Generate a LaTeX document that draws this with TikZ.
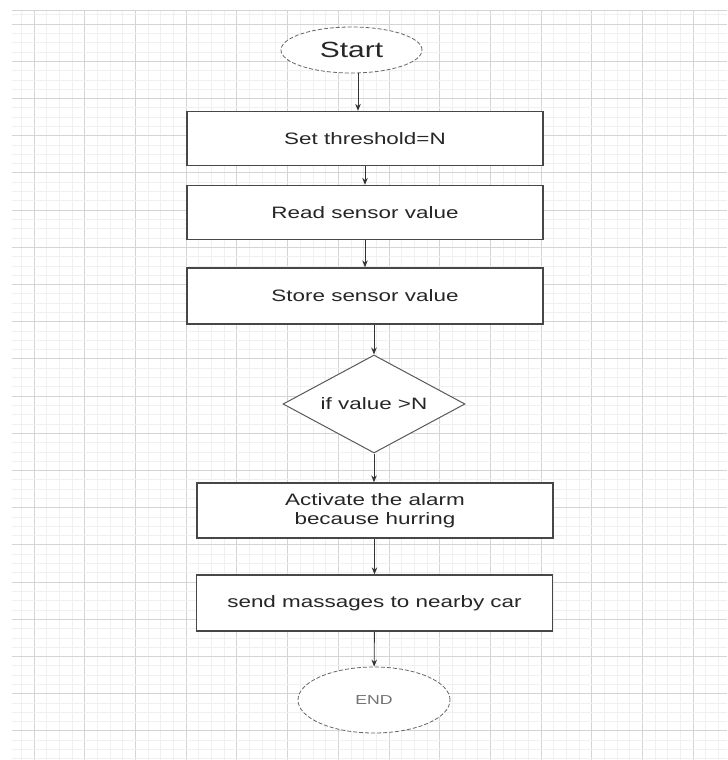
\documentclass[tikz,border=0pt]{standalone}
\usepackage{fontspec}
\setmainfont{Liberation Sans}
\usetikzlibrary{shapes.geometric,arrows.meta}
\newcommand{\wtext}[1]{\scalebox{1.36}[1]{#1}}

\begin{document}
\begin{tikzpicture}[x=1pt,y=-1pt,
    major/.style={draw=black!17, line width=0.8pt},
    minor/.style={draw=black!6, line width=0.6pt},
    box/.style={rectangle, draw=black!72, line width=1.3pt, fill=white, minimum width=356pt, minimum height=54pt, inner sep=0pt, text=black!85, font=\fontsize{16.5}{19}\selectfont},
    term/.style={ellipse, draw=black!60, line width=0.8pt, dash pattern=on 4pt off 2pt, fill=white, inner sep=0pt},
    dec/.style={diamond, aspect=2, draw=black!65, line width=1pt, fill=white, minimum width=182pt, minimum height=98pt, inner sep=0pt, text=black!85, font=\fontsize{16.5}{19}\selectfont},
    arr/.style={draw=black!80, line width=0.9pt, -{Stealth[length=7pt,width=5.5pt]}}]

  % Background and grid
  \fill[white] (0,0) rectangle (727,760);
  \begin{scope}
    \clip (12,10) rectangle (727,760);
    \foreach \i in {-1,...,13} {
      \foreach \j in {1,2,3}
        \draw[minor] ({34+50.7*\i+12.675*\j},10) -- ++(0,750);
      \draw[major] ({34+50.7*\i},10) -- ++(0,750);
    }
    \foreach \k in {-1,...,19} {
      \foreach \j in {1,2,3}
        \draw[minor] (12,{24+37.2*\k+9.3*\j}) -- ++(715,0);
      \draw[major] (12,{24+37.2*\k}) -- ++(715,0);
    }
  \end{scope}
  \draw[major] (12,10) -- (727,10);

  % Flow nodes
  \node[term, minimum width=141pt, minimum height=46pt, text=black!85, font=\fontsize{22}{24}\selectfont] (start) at (351.5,50) {\wtext{Start}};
  \node[box] (thresh) at (365,138.5) {\wtext{Set threshold=N}};
  \node[box] (read) at (365,212.5) {\wtext{Read sensor value}};
  \node[box, minimum height=56pt] (store) at (365,296) {\wtext{Store sensor value}};
  \node[dec] (check) at (374,404) {\wtext{if value >N}};
  \node[box, minimum height=55pt, align=center] (alarm) at (375,510.5) {\wtext{Activate the alarm}\\\wtext{because hurring}};
  \node[box, minimum height=56pt] (send) at (374.5,603) {\wtext{send massages to nearby car}};
  \node[term, minimum width=152pt, minimum height=66pt, text=black!55, font=\fontsize{13}{15}\selectfont] (stop) at (374,700) {\wtext{END}};

  % Connectors
  \draw[arr] ([xshift=6.5pt]start.south) -- ([xshift=6.5pt]start.south |- thresh.north);
  \draw[arr] (thresh) -- (read);
  \draw[arr] (read) -- (store);
  \draw[arr] (store.south -| check.north) -- (check.north);
  \draw[arr] (check.south) -- (check.south |- alarm.north);
  \draw[arr] (alarm.south -| send.north) -- (send.north);
  \draw[arr] (send) -- (stop);

\end{tikzpicture}
\end{document}
